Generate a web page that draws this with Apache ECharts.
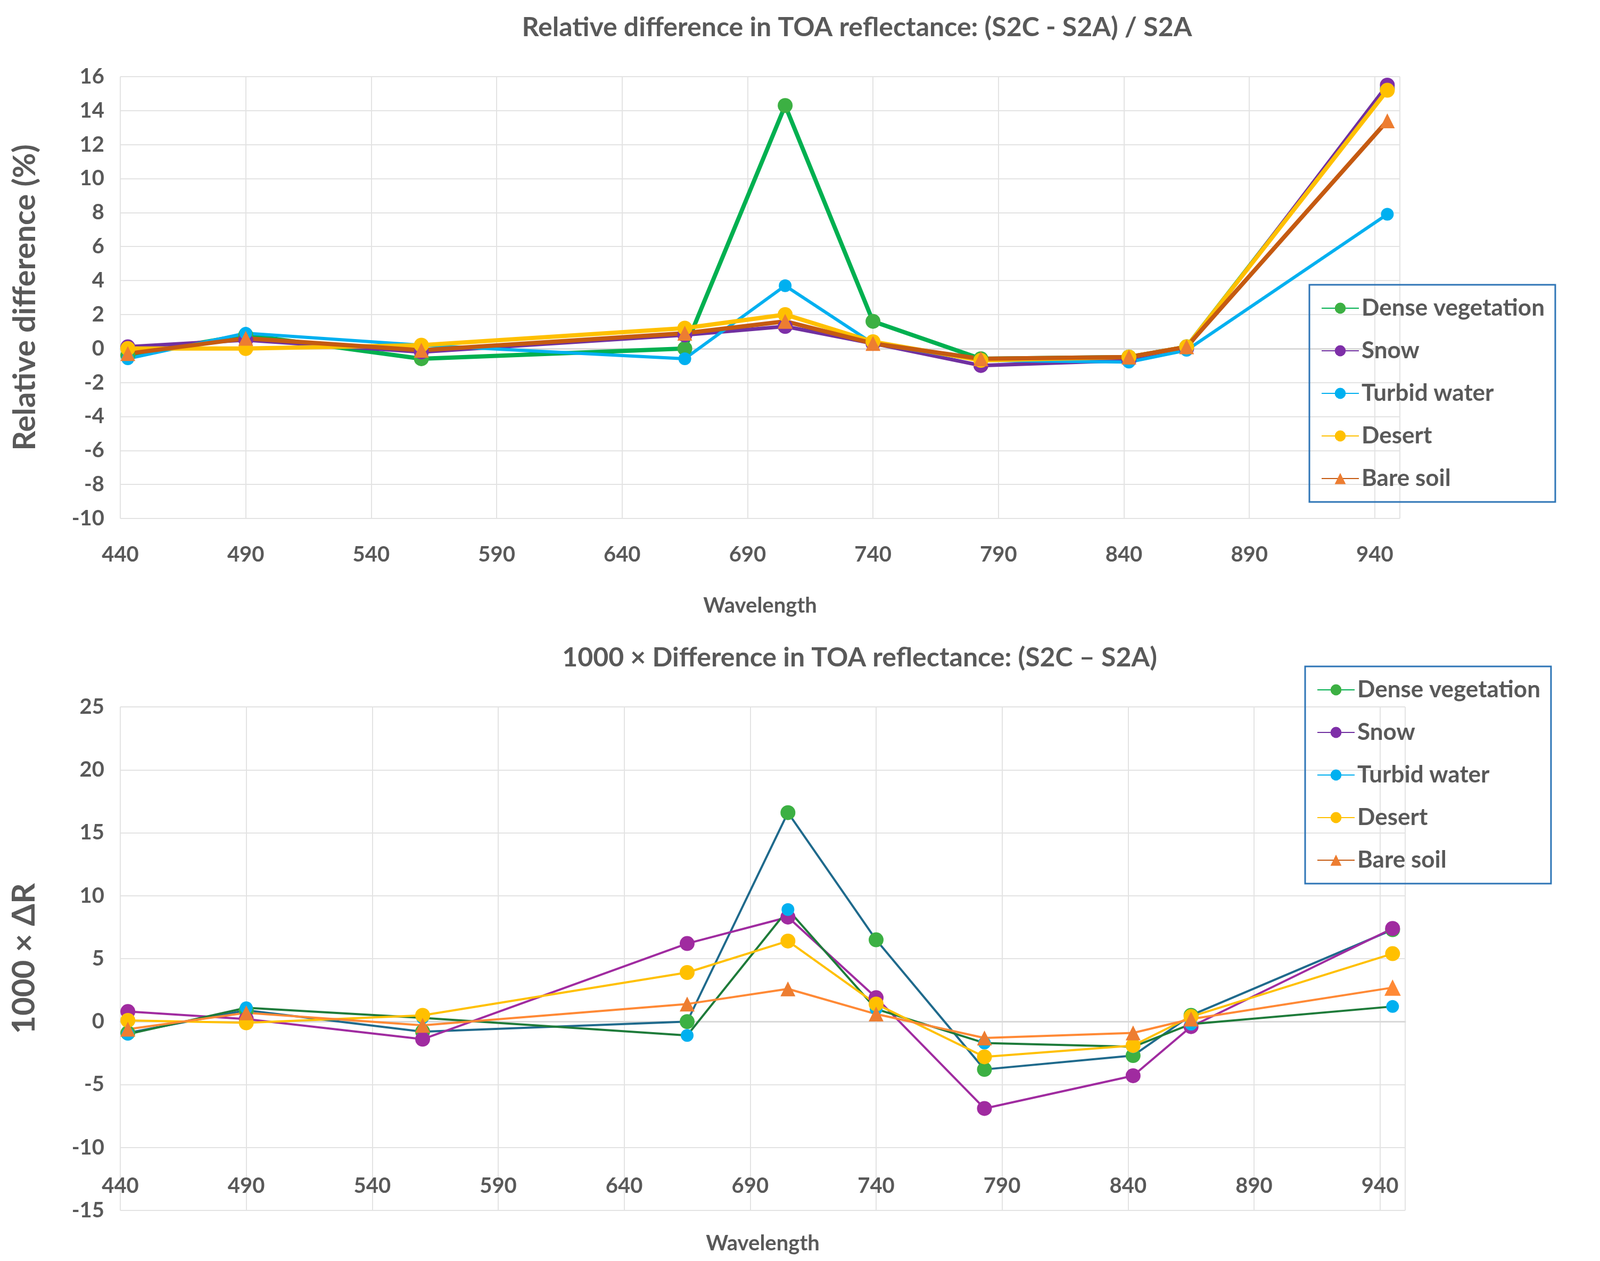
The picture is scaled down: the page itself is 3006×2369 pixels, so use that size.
<!DOCTYPE html>
<html>
<head>
<meta charset="utf-8">
<script src="https://cdn.jsdelivr.net/npm/echarts@6/dist/echarts.min.js"></script>
<style>
html, body { margin: 0; padding: 0; background: #fff; }
#chart { width: 3006px; height: 2369px; }
</style>
</head>
<body>
<div id="chart"></div>
<script>
var wavelengths = [443, 490, 560, 665, 705, 740, 783, 842, 865, 945];
var seriesNames = ['Dense vegetation', 'Snow', 'Turbid water', 'Desert', 'Bare soil'];

// relative difference (%)
var relDense = [-0.4, 0.8, -0.6, 0.0, 14.3, 1.6, -0.6, -0.5, 0.1, 15.3];
var relSnow = [0.1, 0.5, -0.2, 0.8, 1.3, 0.3, -1.0, -0.7, 0.0, 15.5];
var relTurbid = [-0.6, 0.9, 0.2, -0.6, 3.7, 0.3, -0.7, -0.8, -0.1, 7.9];
var relDesert = [0.0, 0.0, 0.2, 1.2, 2.0, 0.4, -0.7, -0.5, 0.1, 15.2];
var relSoil = [-0.3, 0.6, -0.1, 0.9, 1.6, 0.3, -0.6, -0.5, 0.1, 13.4];

// 1000 x difference
var difDense = [-0.9, 0.9, -0.8, 0.0, 16.6, 6.5, -3.8, -2.7, 0.5, 7.3];
var difSnow = [0.8, 0.2, -1.4, 6.2, 8.3, 1.9, -6.9, -4.3, -0.4, 7.4];
var difTurbid = [-1.0, 1.1, 0.3, -1.1, 8.9, 1.0, -1.7, -2.0, -0.2, 1.2];
var difDesert = [0.1, -0.1, 0.5, 3.9, 6.4, 1.4, -2.8, -1.9, 0.4, 5.4];
var difSoil = [-0.6, 0.7, -0.3, 1.4, 2.6, 0.6, -1.3, -0.9, 0.2, 2.7];

var textColor = '#595959';
var font = 'Lato';

function pairs(vals) {
    return vals.map(function (v, i) { return [wavelengths[i], v]; });
}

function mkSeries(name, vals, idx, lineColor, markColor, width, symbol, size) {
    return {
        name: name, type: 'line', xAxisIndex: idx, yAxisIndex: idx,
        data: pairs(vals), symbol: symbol, symbolSize: size, showSymbol: true,
        lineStyle: { color: lineColor, width: width },
        itemStyle: { color: markColor, borderWidth: 0 },
        z: 5
    };
}

function xAx(idx, labelMargin, inside, nameGap) {
    return {
        type: 'value', gridIndex: idx, min: 440, max: 950, interval: 50,
        name: 'Wavelength', nameLocation: 'middle', nameGap: nameGap,
        nameTextStyle: { color: textColor, fontSize: 40, fontWeight: 'bold', fontFamily: font },
        axisLine: { show: true, lineStyle: { color: '#d9d9d9', width: 3 } },
        axisTick: { show: false },
        axisLabel: { color: textColor, fontSize: 40, fontWeight: 'bold', fontFamily: font,
            margin: labelMargin, inside: inside, showMaxLabel: false },
        splitLine: { show: true, lineStyle: { color: '#e3e3e3', width: 2 } }
    };
}

function yAx(idx, min, max, interval, name, nameSize) {
    return {
        type: 'value', gridIndex: idx, min: min, max: max, interval: interval,
        name: name, nameLocation: 'middle', nameGap: 150, nameRotate: 90,
        nameTextStyle: { color: textColor, fontSize: nameSize, fontWeight: 'bold', fontFamily: font },
        axisLine: { show: false }, axisTick: { show: false },
        axisLabel: { color: textColor, fontSize: 40, fontWeight: 'bold', fontFamily: font, margin: 30 },
        splitLine: { show: true, lineStyle: { color: '#e3e3e3', width: 2 } }
    };
}

function legend(idx, left, top, w, h, gap) {
    return {
        seriesIndex: undefined,
        data: seriesNames.map(function (n) { return n; }),
        orient: 'vertical', left: left, top: top, width: w, height: h,
        itemGap: gap, itemWidth: 70, itemHeight: 26, padding: [22, 20, 22, 22],
        borderColor: '#2e75b6', borderWidth: 3,
        textStyle: { color: textColor, fontSize: 44, fontWeight: 'bold', fontFamily: font }
    };
}

var chart = echarts.init(document.getElementById('chart'));
var option = {
    backgroundColor: '#fff',
    title: [
        { text: 'Relative difference in TOA reflectance: (S2C - S2A) / S2A', left: 1605, top: 22, textAlign: 'center',
          textStyle: { color: textColor, fontSize: 50, fontWeight: 'bold', fontFamily: font } },
        { text: '1000 \u00d7 Difference in TOA reflectance: (S2C \u2013 S2A)', left: 1610, top: 1206, textAlign: 'center',
          textStyle: { color: textColor, fontSize: 50, fontWeight: 'bold', fontFamily: font } }
    ],
    grid: [
        { left: 226, width: 2404, top: 144, height: 830 },
        { left: 226, width: 2414, top: 1328, height: 946 }
    ],
    xAxis: [xAx(0, 48, false, 144), xAx(1, 26, true, 42)],
    yAxis: [yAx(0, -10, 16, 2, 'Relative difference (%)', 58), yAx(1, -15, 25, 5, '1000 \u00d7 \u0394R', 60)],
    legend: [
        Object.assign(legend(0, 2460, 535, 527, 427, 36), {}),
        Object.assign(legend(1, 2452, 1252, 529, 431, 36), {})
    ],
    series: [
        mkSeries('Dense vegetation', relDense, 0, '#00b050', '#3cb043', 8, 'circle', 28),
        mkSeries('Snow', relSnow, 0, '#7030a0', '#7e2fa8', 7, 'circle', 28),
        mkSeries('Turbid water', relTurbid, 0, '#00b0f0', '#00b0f0', 6, 'circle', 24),
        mkSeries('Desert', relDesert, 0, '#ffc000', '#ffc000', 8, 'circle', 28),
        mkSeries('Bare soil', relSoil, 0, '#c55a11', '#ed7d31', 8, 'triangle', 28),
        mkSeries('Dense vegetation', difDense, 1, '#1f6a8c', '#3cb043', 4, 'circle', 28),
        mkSeries('Snow', difSnow, 1, '#a02ba0', '#a02ba0', 4, 'circle', 28),
        mkSeries('Turbid water', difTurbid, 1, '#1e7b3a', '#00b0f0', 4, 'circle', 24),
        mkSeries('Desert', difDesert, 1, '#ffc000', '#ffc000', 4, 'circle', 28),
        mkSeries('Bare soil', difSoil, 1, '#ed7d31', '#ed7d31', 4, 'triangle', 28)
    ]
};
chart.setOption(option);
</script>
</body>
</html>
